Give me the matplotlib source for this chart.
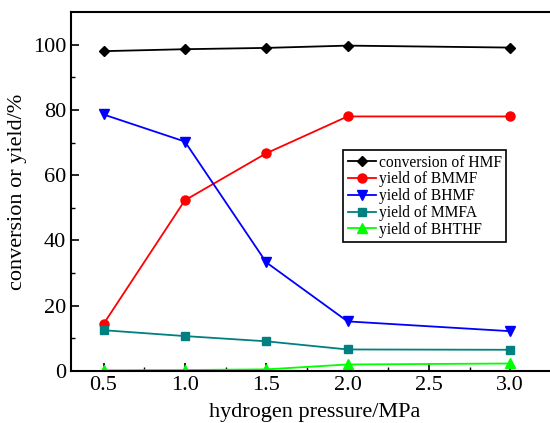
import matplotlib.pyplot as plt
import numpy as np

pressure = [0.5, 1.0, 1.5, 2.0, 3.0]
conv_hmf = [98.0, 98.6, 99.0, 99.7, 99.1]
yield_bmmf = [14.4, 52.3, 66.7, 78.0, 78.0]
yield_bhmf = [78.6, 70.3, 33.3, 15.2, 12.2]
yield_mmfa = [12.5, 10.7, 9.1, 6.6, 6.5]
yield_bhthf = [0.2, 0.3, 0.5, 2.0, 2.3]

plt.rcParams['font.family'] = ['Liberation Serif', 'DejaVu Serif']

fig = plt.figure(figsize=(5.5, 4.23), dpi=100)
ax = fig.add_axes([71 / 550, 52 / 423, 488 / 550, 359 / 423])

ax.plot(pressure, conv_hmf, color='black', marker='D', markersize=5.5, lw=1.3, label='conversion of HMF')
ax.plot(pressure, yield_bmmf, color='red', marker='o', markersize=6.5, lw=1.3, label='yield of BMMF')
ax.plot(pressure, yield_bhmf, color='blue', marker='v', markersize=7, lw=1.3, label='yield of BHMF')
ax.plot(pressure, yield_mmfa, color='#008080', marker='s', markersize=5.5, lw=1.3, label='yield of MMFA')
ax.plot(pressure, yield_bhthf, color='#00ff00', marker='^', markersize=7, lw=1.3, label='yield of BHTHF')

ax.set_xlim(0.3, 3.3)
ax.set_ylim(0, 110)
ax.set_xticks([0.5, 1.0, 1.5, 2.0, 2.5, 3.0])
ax.set_xticks(np.arange(0.75, 3.3, 0.5), minor=True)
ax.set_yticks([0, 20, 40, 60, 80, 100])
ax.set_yticks(np.arange(10, 110, 20), minor=True)
ax.tick_params(direction='in', which='major', length=6, width=1.2, labelsize=16)
ax.tick_params(direction='in', which='minor', length=3, width=1.0)
for s in ax.spines.values():
    s.set_linewidth(1.5)

ax.set_xlabel('hydrogen pressure/MPa', fontsize=16, labelpad=6)
ax.set_ylabel('conversion or yield/%', fontsize=16, labelpad=4)

leg = ax.legend(loc='upper left', bbox_to_anchor=(343 / 550, 1 - 150 / 423),
                bbox_transform=fig.transFigure, fontsize=11.2, fancybox=False,
                edgecolor='black', framealpha=1, handlelength=1.8, handletextpad=0.2,
                labelspacing=0.05, borderpad=0.3, borderaxespad=0)
leg.get_frame().set_linewidth(1.2)

fig.savefig('out.png', dpi=100)
